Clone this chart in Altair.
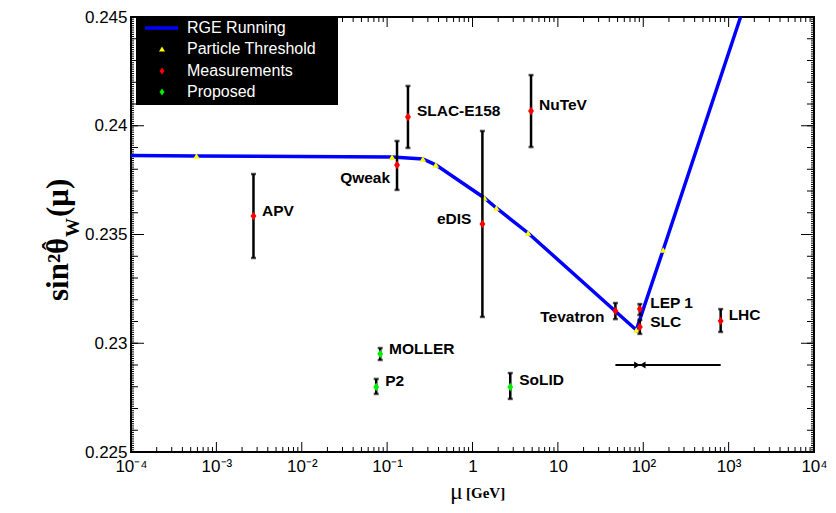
import altair as alt
import pandas as pd

# ---------------- data ----------------
# RGE running curve (vertices)
rge_mu = [1e-4, 5.85e-4, 0.1143, 0.2624, 0.3715, 1.380, 1.901, 4.477, 82.9, 171.0, 1380.0]
rge_s2w = [0.23863, 0.23861, 0.23856, 0.23847, 0.23820, 0.23668, 0.23622, 0.23507, 0.23061, 0.23429, 0.245]

# particle thresholds (yellow triangles)
thr_mu = [5.85e-4, 0.1143, 0.2624, 0.3715, 1.380, 1.901, 4.477, 82.9, 171.0]
thr_s2w = [0.23861, 0.23856, 0.23847, 0.23820, 0.23668, 0.23622, 0.23507, 0.23061, 0.23429]

# measurements and proposals
names = ["APV", "Qweak", "SLAC-E158", "NuTeV", "eDIS", "Tevatron", "LEP 1", "SLC", "LHC",
         "MOLLER", "P2", "SoLID"]
kinds = ["Measurements"] * 9 + ["Proposed"] * 3
mu = [2.72e-3, 0.1306, 0.1754, 4.85, 1.306, 47.2, 91.2, 91.2, 807.0, 0.0830, 0.0745, 2.77]
s2w = [0.23585, 0.23820, 0.24040, 0.24068, 0.23548, 0.23148, 0.23157, 0.23075, 0.23102,
       0.22951, 0.22799, 0.22799]
s2w_lo = [0.23392, 0.23705, 0.23898, 0.23902, 0.23121, 0.23111, 0.23130, 0.23043, 0.23052,
          0.22923, 0.22767, 0.22744]
s2w_hi = [0.23778, 0.23930, 0.24183, 0.24233, 0.23976, 0.23185, 0.23180, 0.23107, 0.23157,
          0.22978, 0.22836, 0.22863]
label_mu = [3.43e-3, 0.1084, 0.2234, 6.01, 0.972, 35.2, 120.5, 120.5, 1000.0, 0.1054, 0.0948, 3.52]
label_s2w = [0.23608, 0.23760, 0.24068, 0.24095, 0.23571, 0.23121, 0.23185, 0.23098, 0.23130,
             0.22974, 0.22826, 0.22831]
label_align = ["left", "right", "left", "left", "right", "right", "left", "left", "left",
               "left", "left", "left"]

# LHC energy range bar
range_mu = [47.2, 807.0]
range_s2w = 0.22900
range_center = 91.2

# axes
x_ticks = [1e-4, 1e-3, 1e-2, 1e-1, 1, 10, 100, 1000, 10000]
x_labels = ["10⁻⁴", "10⁻³", "10⁻²", "10⁻¹", "1", "10", "10²", "10³", "10⁴"]
y_ticks = [0.225, 0.23, 0.235, 0.24, 0.245]
legend_labels = ["RGE Running", "Particle Threshold", "Measurements", "Proposed"]

# ---------------- chart ----------------
W, H = 683, 435
xscale = alt.Scale(type="log", domain=[1e-4, 1e4], nice=False)
yscale = alt.Scale(domain=[0.225, 0.245], nice=False, zero=False)
label_expr = "[" + ",".join("'%s'" % s for s in x_labels) + "][round(log(datum.value)/LN10)+4]"
xaxis = alt.Axis(values=x_ticks, labelExpr=label_expr, title=None, ticks=False, domain=False,
                 grid=False, labelFontSize=17, labelFont="Liberation Sans", labelColor="black",
                 labelPadding=6, labelFlush=False, labelOverlap=False, labelBound=False)
yaxis = alt.Axis(values=y_ticks, format="~g", title=None, ticks=False, domain=False, grid=False,
                 labelFontSize=17, labelFont="Liberation Sans", labelColor="black",
                 labelPadding=4, labelOverlap=False, labelFlush=False)


def X(f):
    return alt.X(f, type="quantitative", scale=xscale, axis=xaxis)


def Y(f):
    return alt.Y(f, type="quantitative", scale=yscale, axis=yaxis)


one = pd.DataFrame({"a": [0]})
layers = []

# inward ticks
x_minor = [k * 10.0 ** d for d in range(-4, 4) for k in range(2, 10)]
y_mid = [round(0.225 + 0.001 * i, 4) for i in range(21)]
y_minor = [round(0.225 + 0.0001 * i, 5) for i in range(201)]


def xtick_layers(vals, length):
    df = pd.DataFrame({"t": vals})
    base = alt.Chart(df).mark_rule(color="black", strokeWidth=1)
    return [base.encode(x=X("t"), y=alt.value(H), y2=alt.value(H - length)),
            base.encode(x=X("t"), y=alt.value(0), y2=alt.value(length))]


def ytick_layers(vals, length):
    df = pd.DataFrame({"t": vals})
    base = alt.Chart(df).mark_rule(color="black", strokeWidth=1)
    return [base.encode(y=Y("t"), x=alt.value(0), x2=alt.value(length)),
            base.encode(y=Y("t"), x=alt.value(W), x2=alt.value(W - length))]


layers += xtick_layers(x_ticks, 10)
layers += xtick_layers(x_minor, 5)
layers += ytick_layers(y_ticks, 13)
layers += ytick_layers(y_mid, 7)
layers += ytick_layers(y_minor, 3)

# RGE curve
rge_df = pd.DataFrame({"mu": rge_mu, "s2w": rge_s2w, "o": list(range(len(rge_mu)))})
layers.append(alt.Chart(rge_df).mark_line(color="#0000ff", strokeWidth=3.5).encode(
    x=X("mu"), y=Y("s2w"), order="o:Q"))

thr_df = pd.DataFrame({"mu": thr_mu, "s2w": thr_s2w})
layers.append(alt.Chart(thr_df).mark_point(shape="triangle-up", filled=True, color="#ffff00",
                                           size=42, opacity=1).encode(x=X("mu"), y=Y("s2w")))

pts = pd.DataFrame({"name": names, "kind": kinds, "mu": mu, "s2w": s2w, "lo": s2w_lo,
                    "hi": s2w_hi, "lmu": label_mu, "ls2w": label_s2w, "align": label_align})

layers.append(alt.Chart(pts).mark_rule(color="black", strokeWidth=2.5).encode(
    x=X("mu"), y=Y("lo"), y2="hi"))
layers.append(alt.Chart(pts).mark_tick(orient="horizontal", color="black", size=5,
                                       thickness=2.5).encode(x=X("mu"), y=Y("lo")))
layers.append(alt.Chart(pts).mark_tick(orient="horizontal", color="black", size=5,
                                       thickness=2.5).encode(x=X("mu"), y=Y("hi")))

diamond = "M 0 -1 L 0.7 0 L 0 1 L -0.7 0 Z"
layers.append(alt.Chart(pts).mark_point(shape=diamond, filled=True, size=72, opacity=1).encode(
    x=X("mu"), y=Y("s2w"),
    color=alt.Color("kind:N", scale=alt.Scale(domain=["Measurements", "Proposed"],
                                              range=["#ff0000", "#00ee00"]), legend=None)))

for al in ["left", "right"]:
    layers.append(alt.Chart(pts).transform_filter(alt.datum.align == al).mark_text(
        align=al, baseline="middle", font="Liberation Sans", fontWeight="bold", fontSize=15.5,
        color="black").encode(x=X("lmu"), y=Y("ls2w"), text="name:N"))

# LHC range bar
rng_df = pd.DataFrame({"a": [range_mu[0]], "b": [range_mu[1]], "y": [range_s2w]})
layers.append(alt.Chart(rng_df).mark_rule(color="black", strokeWidth=2).encode(
    x=X("a"), x2="b", y=Y("y")))
ctr_df = pd.DataFrame({"m": [range_center], "y": [range_s2w]})
bowtie = "M -1 -0.6 L 0 0 L -1 0.6 Z M 1 -0.6 L 0 0 L 1 0.6 Z"
layers.append(alt.Chart(ctr_df).mark_point(shape=bowtie, filled=True, color="black", size=130,
                                           opacity=1).encode(x=X("m"), y=Y("y")))

# legend box
layers.append(alt.Chart(one).mark_rect(color="black").encode(
    x=alt.value(5), x2=alt.value(207), y=alt.value(0), y2=alt.value(88)))
row_y = [11, 32, 54, 75]
layers.append(alt.Chart(one).mark_rule(color="#0000ff", strokeWidth=3.5).encode(
    x=alt.value(14), x2=alt.value(47), y=alt.value(row_y[0])))
layers.append(alt.Chart(one).mark_point(shape="triangle-up", filled=True, color="#ffff00",
                                        size=36, opacity=1).encode(
    x=alt.value(31), y=alt.value(row_y[1])))
layers.append(alt.Chart(one).mark_point(shape=diamond, filled=True, color="#ff0000",
                                        size=50, opacity=1).encode(
    x=alt.value(31), y=alt.value(row_y[2])))
layers.append(alt.Chart(one).mark_point(shape=diamond, filled=True, color="#00ee00",
                                        size=50, opacity=1).encode(
    x=alt.value(31), y=alt.value(row_y[3])))
for lab, yy in zip(legend_labels, row_y):
    layers.append(alt.Chart(one).mark_text(align="left", baseline="middle",
                                           font="Liberation Sans", fontSize=16,
                                           color="white").encode(
        x=alt.value(56), y=alt.value(yy), text=alt.value(lab)))

# axis titles
serif = "Liberation Serif"


def vtext(txt, x, y, size, align="left"):
    return alt.Chart(one).mark_text(angle=270, align=align, baseline="alphabetic", font=serif,
                                    fontWeight="bold", fontSize=size, color="black").encode(
        x=alt.value(x), y=alt.value(y), text=alt.value(txt))


layers.append(vtext("sin²", -63, 284, 31))
layers.append(vtext("θ", -63, 237, 31))
layers.append(vtext("ˆ", -71, 229, 26, align="center"))
layers.append(vtext("W", -52, 220, 19))
layers.append(vtext("(μ)", -63, 200, 31))

layers.append(alt.Chart(one).mark_text(align="left", baseline="alphabetic", font=serif,
                                       fontSize=24, color="black").encode(
    x=alt.value(319), y=alt.value(482), text=alt.value("μ")))
layers.append(alt.Chart(one).mark_text(align="left", baseline="alphabetic", font=serif,
                                       fontWeight="bold", fontSize=15, color="black").encode(
    x=alt.value(335), y=alt.value(481), text=alt.value("[GeV]")))

chart = alt.layer(*layers).properties(
    width=W, height=H, autosize="none",
    padding={"left": 123, "top": 9, "right": 14, "bottom": 53},
    background="white",
).configure_view(stroke="black", strokeWidth=2)

chart.save("out.html", embed_options={"renderer": "svg", "actions": False})
